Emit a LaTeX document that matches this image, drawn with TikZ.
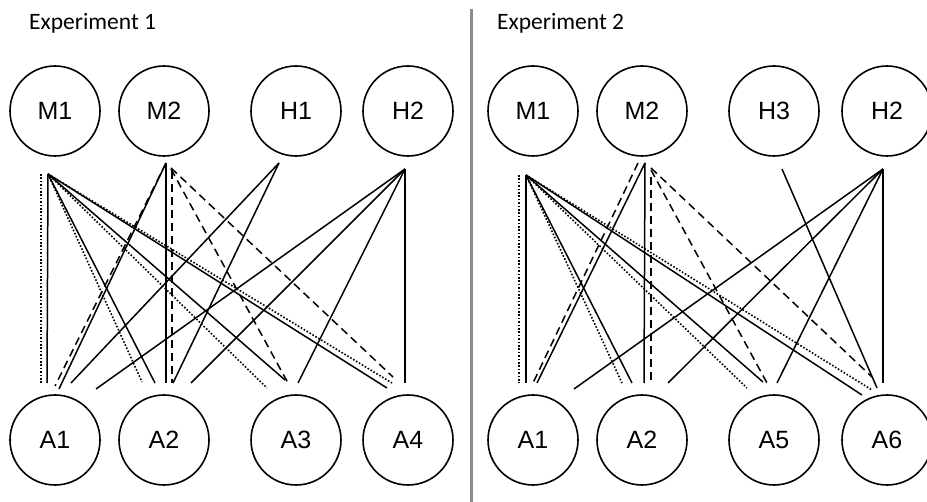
\documentclass[tikz,border=0pt]{standalone}
\usepackage{fontspec}
\setmainfont{Liberation Sans}
\newfontfamily\titlefont{Carlito}
\begin{document}
\begin{tikzpicture}[x=1pt, y=-1pt,
  agent/.style={circle, draw, line width=1.6pt, minimum size=90pt, inner sep=0pt, font=\fontsize{25}{29}\selectfont},
  title/.style={anchor=base west, inner sep=0pt, font=\titlefont\fontsize{23.5}{28}\selectfont},
  solidline/.style={line width=1.5pt},
  dotline/.style={line width=1.6pt, dash pattern=on 1.6pt off 1.8pt},
  dashline/.style={line width=1.5pt, dash pattern=on 8pt off 5pt},
  divider/.style={line width=3pt, draw=black!45}]

\useasboundingbox (0,0) rectangle (927,502);

% Titles
\node[title] (T1) at (29,30) {Experiment 1};
\node[title] (T2) at (497,30) {Experiment 2};
\draw[divider] (471,9) -- (471,502);

% Nodes, experiment 1
\node[agent] (M1) at (55,111) {M1};
\node[agent] (M2) at (164,111) {M2};
\node[agent] (H1) at (296,111) {H1};
\node[agent] (H2) at (408,111) {H2};
\node[agent] (A1) at (55,440) {A1};
\node[agent] (A2) at (164,440) {A2};
\node[agent] (A3) at (296,440) {A3};
\node[agent] (A4) at (408,440) {A4};

% Nodes, experiment 2
\node[agent] (M1b) at (533,111) {M1};
\node[agent] (M2b) at (642,111) {M2};
\node[agent] (H3b) at (774,111) {H3};
\node[agent] (H2b) at (887,111) {H2};
\node[agent] (A1b) at (533,440) {A1};
\node[agent] (A2b) at (642,440) {A2};
\node[agent] (A5b) at (774,440) {A5};
\node[agent] (A6b) at (887,440) {A6};

% Hubs below the top row
\coordinate (M1h) at (48,174);
\coordinate (M2h) at (166,163);
\coordinate (H1h) at (279,163);
\coordinate (H2h) at (405,169);
\coordinate (M1bh) at (526,175);
\coordinate (M2bh) at (645,163);
\coordinate (H3bh) at (782,169);
\coordinate (H2bh) at (883,169);

% Edges, experiment 1
\draw[solidline] (M1h) -- ([shift={(-8,-57)}]A1.center);
\draw[solidline] (M1h) -- ([shift={(-9,-57)}]A2.center);
\draw[solidline] (M1h) -- ([shift={(-11,-60)}]A3.center);
\draw[solidline] (M1h) -- ([shift={(-21,-52)}]A4.center);

\draw[dotline] ([shift={(-7,0)}]M1h) -- ([shift={(-14,-57)}]A1.center);
\draw[dotline] (M1h) -- ([shift={(-22,-58)}]A2.center);
\draw[dotline] (M1h) -- ([shift={(-29,-52)}]A3.center);
\draw[dotline] (M1h) -- ([shift={(-16,-57)}]A4.center);

\draw[solidline] (M2h) -- ([shift={(4,-51)}]A1.center);
\draw[solidline] (M2h) -- ([shift={(2,-57)}]A2.center);

\draw[dashline] (M2h) -- ([shift={(0,-54)}]A1.center);
\draw[dashline] ([shift={(6,8)}]M2h) -- ([shift={(8,-57)}]A2.center);
\draw[dashline] ([shift={(5,6)}]M2h) -- ([shift={(-8,-57)}]A3.center);
\draw[dashline] ([shift={(5,5)}]M2h) -- ([shift={(-15,-63)}]A4.center);

\draw[solidline] (H1h) -- ([shift={(16,-57)}]A1.center);
\draw[solidline] (H1h) -- ([shift={(9,-57)}]A2.center);

\draw[solidline] (H2h) -- ([shift={(41,-51)}]A1.center);
\draw[solidline] (H2h) -- ([shift={(27,-57)}]A2.center);
\draw[solidline] (H2h) -- ([shift={(2,-57)}]A3.center);
\draw[solidline] (H2h) -- ([shift={(-3,-57)}]A4.center);

% Edges, experiment 2
\draw[solidline] (M1bh) -- ([shift={(-7,-57)}]A1b.center);
\draw[solidline] (M1bh) -- ([shift={(-10,-57)}]A2b.center);
\draw[solidline] (M1bh) -- ([shift={(-11,-58)}]A5b.center);
\draw[solidline] (M1bh) -- ([shift={(-25,-45)}]A6b.center);

\draw[dotline] ([shift={(-7,0)}]M1bh) -- ([shift={(-14,-57)}]A1b.center);
\draw[dotline] (M1bh) -- ([shift={(-20,-57)}]A2b.center);
\draw[dotline] (M1bh) -- ([shift={(-27,-52)}]A5b.center);
\draw[dotline] (M1bh) -- ([shift={(-15,-50)}]A6b.center);

\draw[solidline] (M2bh) -- ([shift={(4,-57)}]A1b.center);
\draw[solidline] (M2bh) -- ([shift={(2,-57)}]A2b.center);

\draw[dashline] ([shift={(-7,0)}]M2bh) -- ([shift={(0,-57)}]A1b.center);
\draw[dashline] ([shift={(6,14)}]M2bh) -- ([shift={(9,-57)}]A2b.center);
\draw[dashline] ([shift={(6,7)}]M2bh) -- ([shift={(-7,-57)}]A5b.center);
\draw[dashline] ([shift={(6,5)}]M2bh) -- ([shift={(-15,-63)}]A6b.center);

\draw[solidline] (H3bh) -- ([shift={(-10,-52)}]A6b.center);

\draw[solidline] (H2bh) -- ([shift={(41,-51)}]A1b.center);
\draw[solidline] (H2bh) -- ([shift={(26,-57)}]A2b.center);
\draw[solidline] (H2bh) -- ([shift={(3,-57)}]A5b.center);
\draw[solidline] (H2bh) -- ([shift={(-4,-57)}]A6b.center);

\end{tikzpicture}
\end{document}
